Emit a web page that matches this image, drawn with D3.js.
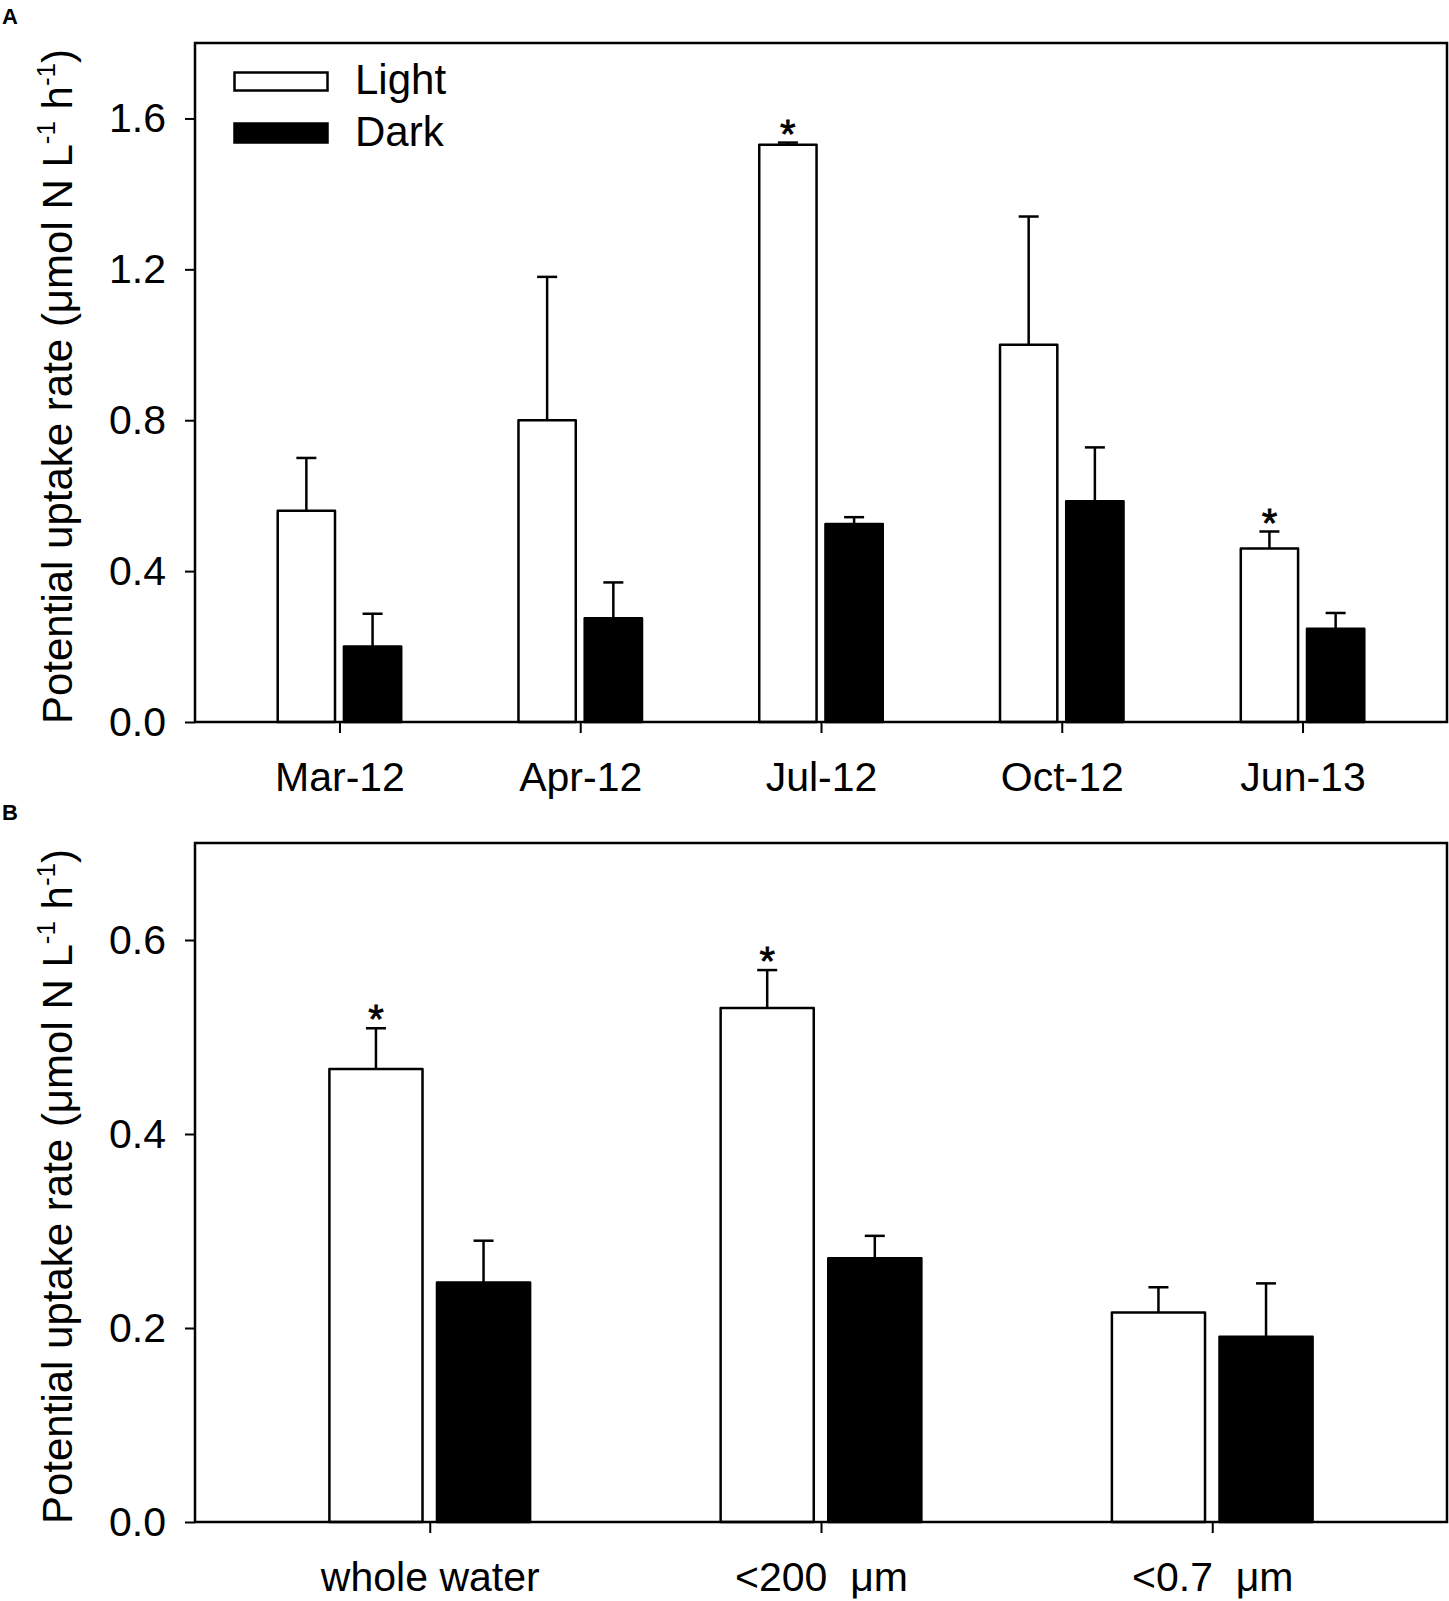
<!DOCTYPE html>
<html>
<head>
<meta charset="utf-8">
<script src="https://cdn.jsdelivr.net/npm/d3@7"></script>
<style>
  body { margin: 0; background: #fff; }
  svg { display: block; font-family: 'Liberation Sans', Arial, sans-serif; }
</style>
</head>
<body>
<svg id="chart" width="1449" height="1601"></svg>
<script>
// Panel A: sampling months
const months = ['Mar-12', 'Apr-12', 'Jul-12', 'Oct-12', 'Jun-13'];
const monthLight = [0.56, 0.80, 1.53, 1.00, 0.46];
const monthLightErr = [0.14, 0.38, 0.006, 0.34, 0.045];
const monthDark = [0.20, 0.275, 0.525, 0.585, 0.247];
const monthDarkErr = [0.087, 0.095, 0.018, 0.143, 0.042];
const monthStars = ['Jul-12', 'Jun-13'];
const monthTicks = [0, 0.4, 0.8, 1.2, 1.6];

// Panel B: size fractions
const fractions = ['whole water', '<200  μm', '<0.7  μm'];
const fracLight = [0.467, 0.530, 0.216];
const fracLightErr = [0.042, 0.039, 0.026];
const fracDark = [0.247, 0.272, 0.191];
const fracDarkErr = [0.043, 0.023, 0.055];
const fracStars = ['whole water', '<200  μm'];
const fracTicks = [0, 0.2, 0.4, 0.6];

const series = ['Light', 'Dark'];
const fills = { Light: '#fff', Dark: '#000' };

const svg = d3.select('#chart');
const left = 195, right = 1447;

function drawPanel({ label, labelY, cats, light, lightErr, dark, darkErr, stars, yMax, ticks, top, bottom, legend }) {
  const g = svg.append('g');

  const x = d3.scalePoint().domain(cats).range([left, right]).padding(0.6);
  const step = x.step();
  const sub = d3.scaleBand().domain(series)
    .range([-0.2565 * step, 0.2565 * step]).paddingInner(0.1345);
  const y = d3.scaleLinear().domain([0, yMax]).range([bottom, top]);

  const rows = [];
  cats.forEach((c, i) => {
    rows.push({ cat: c, s: 'Light', v: light[i], e: lightErr[i] });
    rows.push({ cat: c, s: 'Dark', v: dark[i], e: darkErr[i] });
  });

  // error bars (upper only)
  const eb = g.selectAll('.err').data(rows).enter().append('g').attr('class', 'err')
    .attr('stroke', '#000').attr('stroke-width', 2.5);
  eb.append('line')
    .attr('x1', d => x(d.cat) + sub(d.s) + sub.bandwidth() / 2)
    .attr('x2', d => x(d.cat) + sub(d.s) + sub.bandwidth() / 2)
    .attr('y1', d => y(d.v))
    .attr('y2', d => y(d.v + d.e));
  eb.append('line')
    .attr('x1', d => x(d.cat) + sub(d.s) + sub.bandwidth() / 2 - 10)
    .attr('x2', d => x(d.cat) + sub(d.s) + sub.bandwidth() / 2 + 10)
    .attr('y1', d => y(d.v + d.e))
    .attr('y2', d => y(d.v + d.e));

  g.selectAll('.bar').data(rows).enter().append('rect')
    .attr('class', 'bar')
    .attr('x', d => x(d.cat) + sub(d.s))
    .attr('width', sub.bandwidth())
    .attr('y', d => y(d.v))
    .attr('height', d => y(0) - y(d.v))
    .attr('fill', d => fills[d.s])
    .attr('stroke', '#000')
    .attr('stroke-width', 2.5)
    .attr('stroke-linejoin', 'round');

  // significance marks
  g.selectAll('.star').data(rows.filter(d => d.s === 'Light' && stars.includes(d.cat)))
    .enter().append('text')
    .attr('x', d => x(d.cat) + sub(d.s) + sub.bandwidth() / 2)
    .attr('y', d => y(d.v + d.e) + 5)
    .attr('text-anchor', 'middle')
    .attr('font-size', 40)
    .attr('stroke', '#000').attr('stroke-width', 0.8)
    .text('*');

  // axes
  const yAxis = g.append('g').attr('transform', `translate(${left},0)`)
    .call(d3.axisLeft(y).tickValues(ticks).tickSize(10).tickPadding(19).tickFormat(d3.format('.1f')));
  const xAxis = g.append('g').attr('transform', `translate(0,${bottom})`)
    .call(d3.axisBottom(x).tickSize(11).tickPadding(29));
  [yAxis, xAxis].forEach(a => {
    a.select('.domain').remove();
    a.selectAll('line').attr('stroke', '#000').attr('stroke-width', 2);
    a.selectAll('text').attr('font-size', 41).attr('fill', '#000')
      .attr('font-family', "'Liberation Sans', Arial, sans-serif")
      .style('white-space', 'pre');
  });

  g.append('rect')
    .attr('x', left).attr('y', top)
    .attr('width', right - left).attr('height', bottom - top)
    .attr('fill', 'none').attr('stroke', '#000').attr('stroke-width', 2.5);

  // y title
  const t = g.append('text')
    .attr('transform', `translate(72,${(top + bottom) / 2 + 4}) rotate(-90)`)
    .attr('text-anchor', 'middle')
    .attr('font-size', 42);
  t.append('tspan').text('Potential uptake rate (μmol N L');
  t.append('tspan').attr('font-size', 26).attr('dy', -17).text('-1');
  t.append('tspan').attr('dy', 17).text(' h');
  t.append('tspan').attr('font-size', 26).attr('dy', -17).text('-1');
  t.append('tspan').attr('dy', 17).text(')');

  svg.append('text').attr('x', 2).attr('y', labelY)
    .attr('font-size', 22).attr('font-weight', 'bold').text(label);

  if (legend) {
    const lg = g.append('g');
    series.forEach((s, i) => {
      lg.append('rect')
        .attr('x', 234.5).attr('y', 72.5 + i * 51)
        .attr('width', 93).attr('height', 18 + i)
        .attr('fill', fills[s]).attr('stroke', '#000').attr('stroke-width', 2.5);
      lg.append('text')
        .attr('x', 355).attr('y', 94 + i * 52)
        .attr('font-size', 42).text(s);
    });
  }
}

drawPanel({
  label: 'A', labelY: 24, cats: months,
  light: monthLight, lightErr: monthLightErr, dark: monthDark, darkErr: monthDarkErr,
  stars: monthStars, yMax: 1.8, ticks: monthTicks, top: 43, bottom: 722, legend: true
});
drawPanel({
  label: 'B', labelY: 820, cats: fractions,
  light: fracLight, lightErr: fracLightErr, dark: fracDark, darkErr: fracDarkErr,
  stars: fracStars, yMax: 0.7, ticks: fracTicks, top: 843, bottom: 1522, legend: false
});
</script>
</body>
</html>
